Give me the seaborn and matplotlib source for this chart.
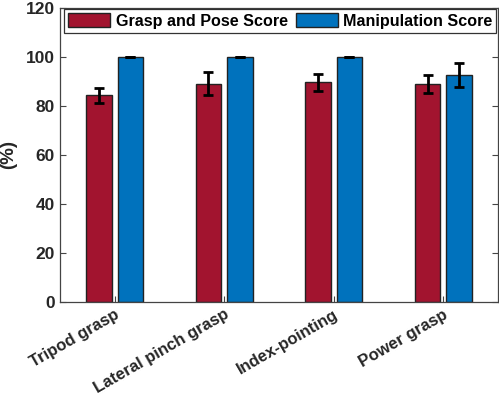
import pandas as pd
import numpy as np
import matplotlib.pyplot as plt
import seaborn as sns

categories = ['Tripod grasp', 'Lateral pinch grasp', 'Index-pointing', 'Power grasp']
series = ['Grasp and Pose Score', 'Manipulation Score']
grasp_mean = [84.3, 89.0, 89.7, 89.0]
grasp_err = [3.0, 4.7, 3.5, 3.7]
manip_mean = [100.0, 100.0, 100.0, 92.6]
manip_err = [0.0, 0.0, 0.0, 4.8]

df = pd.DataFrame({
    'Gesture': categories * 2,
    'Score': series[0:1] * 4 + series[1:2] * 4,
    'Value': grasp_mean + manip_mean,
    'Err': grasp_err + manip_err,
})

sns.set_style('white')
plt.rcParams['font.family'] = ['Liberation Sans', 'DejaVu Sans']
plt.rcParams['font.weight'] = 'bold'
text_col = '#262626'

fig = plt.figure(figsize=(4.99, 4.01), dpi=100)
ax = fig.add_axes([0.12, 0.247, 0.878, 0.733])

palette = {series[0]: '#A2142F', series[1]: '#0072BD'}
sns.barplot(data=df, x='Gesture', y='Value', hue='Score', order=categories,
            hue_order=series, palette=palette, width=0.573, gap=0.187,
            errorbar=None, edgecolor='#222222', linewidth=1.0, saturation=1,
            ax=ax)

# error bars at the bar centres drawn by seaborn
bars = [p for p in ax.patches if p.get_height() > 0][:8]
for p, err in zip(bars, df['Err']):
    xc = p.get_x() + p.get_width() / 2
    ax.errorbar(xc, p.get_height(), yerr=err, color='black', elinewidth=2,
                capsize=3.5, capthick=2, zorder=5)

ax.set_ylim(0, 120)
ax.set_xlim(-0.5, 3.5)
ax.set_yticks(range(0, 121, 20))
ax.set_xlabel('')
ax.set_ylabel('(%)', fontsize=13.5, fontweight='bold', color=text_col)
ax.yaxis.set_label_coords(-0.098, 0.5)
ax.tick_params(axis='both', direction='in', length=4, width=0.8, colors='#444444',
               labelcolor=text_col, labelsize=12.5, right=True, bottom=True, left=True)
ax.set_xticks(range(4))
ax.set_xticklabels(categories, rotation=30, ha='right', rotation_mode='anchor',
                   fontweight='bold', fontsize=12)
for lab in ax.get_yticklabels():
    lab.set_fontweight('bold')
for s in ax.spines.values():
    s.set_color('#444444')
    s.set_linewidth(0.9)

leg = ax.legend(loc='upper center', bbox_to_anchor=(0.503, 1.0), ncol=2,
                frameon=True, fancybox=False, edgecolor='black', fontsize=11.6,
                handlelength=2.6, handleheight=1.0, columnspacing=0.5,
                handletextpad=0.35, borderpad=0.25, borderaxespad=0.05)
leg.get_frame().set_linewidth(0.9)
for t in leg.get_texts():
    t.set_fontweight('bold')
    t.set_color('black')

fig.savefig('out.png', dpi=100)
